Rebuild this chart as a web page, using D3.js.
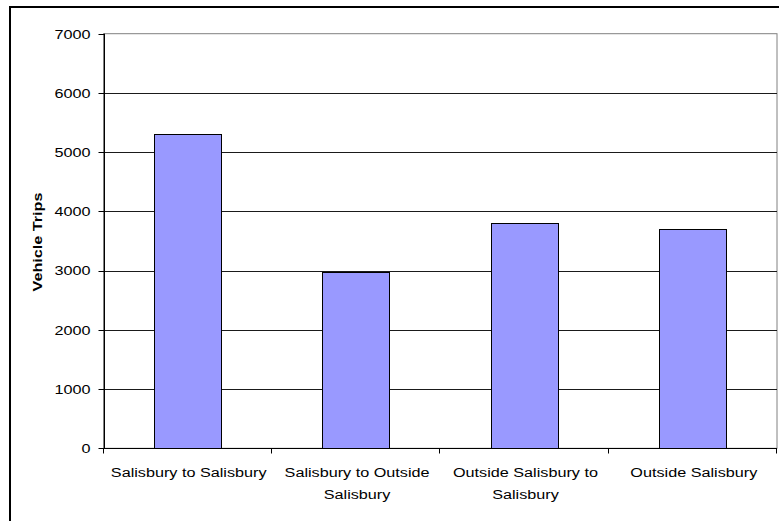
<!DOCTYPE html>
<html>
<head>
<meta charset="utf-8">
<script src="https://cdn.jsdelivr.net/npm/d3@7/dist/d3.min.js"></script>
<style>
  html, body { margin: 0; padding: 0; background: #fff; }
  svg { display: block; }
  text { font-family: "Liberation Sans", Arial, sans-serif; fill: #000; }
</style>
</head>
<body>
<script>
// Vehicle trips by origin / destination pair
const categories = [
  "Salisbury to Salisbury",
  "Salisbury to Outside Salisbury",
  "Outside Salisbury to Salisbury",
  "Outside Salisbury"
];
// wrapped category labels, one entry per line
const categoryLines = [
  ["Salisbury to Salisbury"],
  ["Salisbury to Outside", "Salisbury"],
  ["Outside Salisbury to", "Salisbury"],
  ["Outside Salisbury"]
];
const trips = [5300, 2985, 3800, 3710];
const yTicks = [0, 1000, 2000, 3000, 4000, 5000, 6000, 7000];
const yTitle = "Vehicle Trips";

const W = 779, H = 521;
const plot = { left: 103.5, right: 777, top: 33.7, bottom: 448.3 };
const stretch = 1.2; // text is drawn slightly widened along its baseline

const svg = d3.select("body").append("svg")
  .attr("width", W).attr("height", H)
  .style("overflow", "hidden");

// chart frame
svg.append("path")
  .attr("d", `M10,${H + 5}V7H${W + 5}`)
  .attr("fill", "none").attr("stroke", "#000").attr("stroke-width", 2);

const x = d3.scaleBand()
  .domain(categories)
  .range([plot.left, plot.right])
  .paddingInner(0.6)
  .paddingOuter(0.3);

const y = d3.scaleLinear()
  .domain([0, 7000])
  .range([plot.bottom, plot.top]);

// plot area border
svg.append("rect")
  .attr("x", plot.left).attr("y", y(7000))
  .attr("width", plot.right - plot.left)
  .attr("height", y(0) - y(7000))
  .attr("fill", "#fff").attr("stroke", "#808080").attr("stroke-width", 1);

// horizontal gridlines
svg.append("g").selectAll("line")
  .data(yTicks.filter(v => v > 0 && v < 7000))
  .join("line")
  .attr("x1", plot.left).attr("x2", plot.right)
  .attr("y1", d => Math.round(y(d)) + 0.5).attr("y2", d => Math.round(y(d)) + 0.5)
  .attr("stroke", "#1a1a1a").attr("stroke-width", 1);

// bars
svg.append("g").selectAll("rect")
  .data(trips)
  .join("rect")
  .attr("x", (d, i) => Math.round(x(categories[i])) + 0.5)
  .attr("y", d => Math.round(y(d)) + 0.5)
  .attr("width", Math.round(x.bandwidth()))
  .attr("height", d => Math.round(y(0)) - Math.round(y(d)))
  .attr("fill", "#9999ff")
  .attr("stroke", "#000").attr("stroke-width", 1);

// y axis
const yAxisX = Math.round(plot.left) + 0.5;
const yAxis = svg.append("g");
yAxis.append("line")
  .attr("x1", yAxisX).attr("x2", yAxisX)
  .attr("y1", y(7000)).attr("y2", y(0))
  .attr("stroke", "#000");
yAxis.selectAll("line.tick")
  .data(yTicks)
  .join("line").attr("class", "tick")
  .attr("x1", yAxisX - 6).attr("x2", yAxisX)
  .attr("y1", d => Math.round(y(d)) + 0.5).attr("y2", d => Math.round(y(d)) + 0.5)
  .attr("stroke", "#000");
yAxis.selectAll("text")
  .data(yTicks)
  .join("text")
  .attr("transform", d => `translate(90.5,${y(d)}) scale(${stretch},1)`)
  .attr("text-anchor", "end")
  .attr("dy", "0.36em")
  .style("font-size", "13.5px")
  .text(d => d);

// x axis
const xAxisY = Math.round(y(0)) + 0.5;
const xAxis = svg.append("g");
xAxis.append("line")
  .attr("x1", plot.left).attr("x2", plot.right)
  .attr("y1", xAxisY).attr("y2", xAxisY)
  .attr("stroke", "#000");
const boundaries = categories.map(c => x(c) - x.step() * x.paddingOuter()).concat([plot.right]);
xAxis.selectAll("line.tick")
  .data(boundaries)
  .join("line").attr("class", "tick")
  .attr("x1", d => Math.round(d) - 0.5).attr("x2", d => Math.round(d) - 0.5)
  .attr("y1", xAxisY).attr("y2", xAxisY + 5)
  .attr("stroke", "#000");
const labels = xAxis.selectAll("text")
  .data(categories)
  .join("text")
  .attr("transform", (d, i) => `translate(${x(d) + x.bandwidth() / 2 + 1},477) scale(${stretch},1)`)
  .attr("text-anchor", "middle")
  .style("font-size", "13.5px");
labels.selectAll("tspan")
  .data((d, i) => categoryLines[i])
  .join("tspan")
  .attr("x", 0)
  .attr("y", (d, j) => j * 22.5)
  .text(d => d);

// y axis title
svg.append("text")
  .attr("transform", `translate(41.5,${(plot.top + plot.bottom) / 2 + 1}) rotate(-90) scale(${stretch},1)`)
  .attr("text-anchor", "middle")
  .style("font-size", "13.5px")
  .style("font-weight", "bold")
  .text(yTitle);
</script>
</body>
</html>
